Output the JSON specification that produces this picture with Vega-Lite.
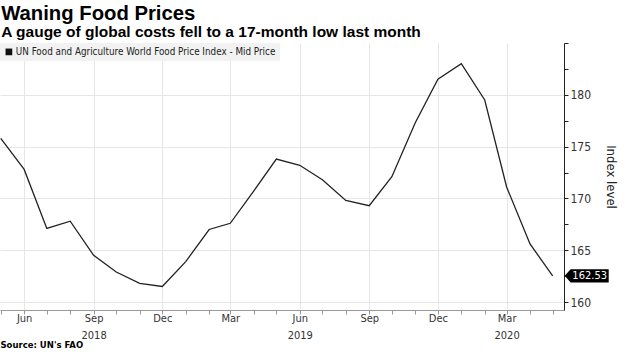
{
  "$schema": "https://vega.github.io/schema/vega-lite/v6.json",
  "autosize": "none",
  "width": 564,
  "height": 267,
  "padding": {"left": 0, "top": 43, "right": 61, "bottom": 45},
  "background": "white",
  "title": {
    "text": "Waning Food Prices",
    "subtitle": "A gauge of global costs fell to a 17-month low last month",
    "anchor": "start",
    "font": "Liberation Sans",
    "fontSize": 20.3,
    "fontWeight": "bold",
    "color": "black",
    "subtitleFont": "Liberation Sans",
    "subtitleFontSize": 15.5,
    "subtitleFontWeight": "bold",
    "subtitleColor": "black",
    "subtitlePadding": 1,
    "offset": 2,
    "dx": 3
  },
  "config": {
    "view": {"stroke": null},
    "font": "DejaVu Sans Condensed, DejaVu Sans, sans-serif"
  },
  "data": {
    "values": [
      {"date": "2018-05-01", "value": 175.8},
      {"date": "2018-06-01", "value": 172.8},
      {"date": "2018-07-01", "value": 167.1},
      {"date": "2018-08-01", "value": 167.8},
      {"date": "2018-09-01", "value": 164.5},
      {"date": "2018-10-01", "value": 162.9},
      {"date": "2018-11-01", "value": 161.8},
      {"date": "2018-12-01", "value": 161.5},
      {"date": "2019-01-01", "value": 163.9},
      {"date": "2019-02-01", "value": 167.0},
      {"date": "2019-03-01", "value": 167.6},
      {"date": "2019-04-01", "value": 170.7},
      {"date": "2019-05-01", "value": 173.8},
      {"date": "2019-06-01", "value": 173.2},
      {"date": "2019-07-01", "value": 171.8},
      {"date": "2019-08-01", "value": 169.8},
      {"date": "2019-09-01", "value": 169.3},
      {"date": "2019-10-01", "value": 172.1},
      {"date": "2019-11-01", "value": 177.3},
      {"date": "2019-12-01", "value": 181.5},
      {"date": "2020-01-01", "value": 183.0},
      {"date": "2020-02-01", "value": 179.5},
      {"date": "2020-03-01", "value": 171.1},
      {"date": "2020-04-01", "value": 165.6},
      {"date": "2020-05-01", "value": 162.53}
    ]
  },
  "encoding": {
    "x": {
      "field": "date",
      "type": "temporal",
      "scale": {
        "type": "utc",
        "domain": [
          {"year": 2018, "month": 4, "date": 30, "utc": true},
          {"year": 2020, "month": 5, "date": 16, "utc": true}
        ]
      },
      "axis": {
        "tickCount": {"interval": "month", "step": 1},
        "labelExpr": "utcmonth(datum.value) % 3 == 2 ? ((utcyear(datum.value) == 2018 && utcmonth(datum.value) == 8) || (utcyear(datum.value) == 2019 && utcmonth(datum.value) == 5) || (utcyear(datum.value) == 2020 && utcmonth(datum.value) == 2) ? [utcFormat(datum.value, '%b'), utcFormat(datum.value, '%Y')] : utcFormat(datum.value, '%b')) : ''",
        "labelOverlap": false,
        "labelFlush": false,
        "labelFont": "DejaVu Sans Condensed, DejaVu Sans, sans-serif",
        "labelFontSize": 11,
        "labelColor": "#333333",
        "labelLineHeight": 17,
        "labelPadding": -2,
        "tickSize": 4,
        "tickOffset": 0,
        "tickColor": "#999999",
        "domainColor": "#999999",
        "grid": true,
        "gridColor": "#e6e6e6",
        "gridOpacity": {"condition": {"test": "utcmonth(datum.value) % 3 == 2", "value": 1}, "value": 0},
        "title": "Source: UN's FAO",
        "titleFont": "DejaVu Sans, sans-serif",
        "titleFontWeight": "bold",
        "titleFontSize": 8.5,
        "titleColor": "black",
        "titleAnchor": "start",
        "titleAlign": "left",
        "titlePadding": 0
      }
    },
    "y": {
      "field": "value",
      "type": "quantitative",
      "scale": {"domain": [159.23, 185], "nice": false, "zero": false},
      "axis": {
        "orient": "right",
        "values": [160, 162.5, 165, 167.5, 170, 172.5, 175, 177.5, 180, 182.5, 185],
        "labelExpr": "datum.value % 5 == 0 && datum.value < 185 ? datum.label : ''",
        "labelFont": "DejaVu Sans Condensed, DejaVu Sans, sans-serif",
        "labelFontSize": 12,
        "labelColor": "#333333",
        "labelPadding": 2,
        "tickSize": 4,
        "tickColor": "#222222",
        "domainColor": "#222222",
        "grid": true,
        "gridColor": "#e6e6e6",
        "gridOpacity": {"condition": {"test": "datum.value % 5 == 0 && datum.value < 185", "value": 1}, "value": 0},
        "title": "Index level",
        "titleAngle": 90,
        "titleFont": "DejaVu Sans Condensed, DejaVu Sans, sans-serif",
        "titleFontWeight": "normal",
        "titleFontSize": 13,
        "titleColor": "#222222",
        "titlePadding": 13
      }
    }
  },
  "layer": [
    {
      "mark": {"type": "line", "strokeWidth": 1.3},
      "encoding": {
        "color": {
          "datum": "UN Food and Agriculture World Food Price Index - Mid Price",
          "scale": {"range": ["#222222"]},
          "legend": {
            "title": null,
            "orient": "top-left",
            "offset": 0,
            "padding": 4,
            "fillColor": "#f2f2f2",
            "symbolType": "square",
            "symbolSize": 45,
            "symbolFillColor": "#111111",
            "symbolStrokeWidth": 0,
            "labelFont": "DejaVu Sans Condensed, DejaVu Sans, sans-serif",
            "labelFontSize": 9.8,
            "labelColor": "#222222",
            "labelLimit": 500,
            "labelOffset": 2,
            "symbolOffset": 0,
            "rowPadding": 0
          }
        }
      }
    },
    {
      "data": {"values": [{"date": "2018-12-01"}, {"date": "2019-12-01"}]},
      "mark": {"type": "rule", "color": "#bbbbbb", "strokeWidth": 1, "clip": false},
      "encoding": {
        "y": {"datum": 157.75},
        "y2": {"datum": 156.8}
      }
    },
    {
      "transform": [{"filter": "time(datum.date) == utc(2020, 4, 1)"}],
      "mark": {
        "type": "point",
        "shape": "M0.6,0 L0.9,-0.33 L2.8,-0.33 L2.8,0.33 L0.9,0.33 Z",
        "filled": true,
        "fill": "black",
        "opacity": 1,
        "size": 1600,
        "strokeWidth": 0
      }
    },
    {
      "transform": [{"filter": "time(datum.date) == utc(2020, 4, 1)"}],
      "mark": {"type": "text", "color": "white", "dx": 37, "align": "center", "baseline": "middle", "fontSize": 11, "font": "DejaVu Sans Condensed, DejaVu Sans, sans-serif"},
      "encoding": {
        "text": {"field": "value", "type": "quantitative", "format": ".2f"}
      }
    }
  ]
}
